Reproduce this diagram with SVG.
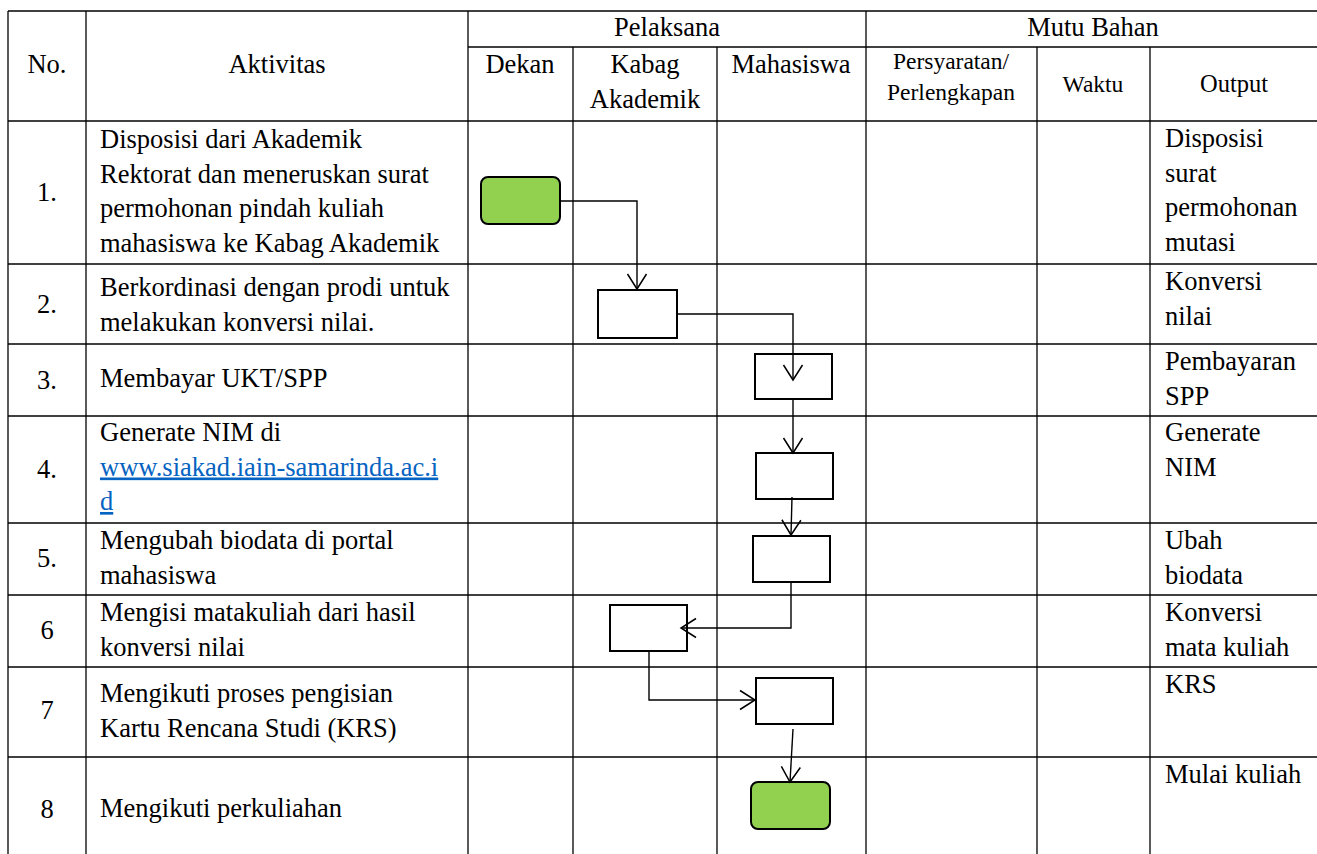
<svg xmlns="http://www.w3.org/2000/svg" width="1317" height="854" viewBox="0 0 1317 854" font-family="Liberation Serif, Tinos, Times New Roman, serif">
<style>
text{font-family:'Liberation Serif',Tinos,'Times New Roman',serif;font-size:26.5px;fill:#000}
.c{text-anchor:middle}
.s{font-size:23.5px}
.o{font-size:24.5px}
.grid line{stroke:#000;stroke-width:1.3}
.box{fill:#fff;stroke:#000;stroke-width:2}
.term{fill:#92d050;stroke:#000;stroke-width:2}
.con path{fill:none;stroke:#000;stroke-width:1.4}
.link{fill:#0563c1;text-decoration:underline}
</style>
<defs>
<marker id="arr" markerUnits="userSpaceOnUse" markerWidth="40" markerHeight="40" refX="0" refY="0" orient="auto" style="overflow:visible">
<path d="M-15,-9.5 L0,0 L-15,9.5" fill="none" stroke="#000" stroke-width="1.5"/>
</marker>
</defs>
<rect width="1317" height="854" fill="#fff"/>
<g id="table" class="grid">
<line x1="8" y1="11" x2="1317" y2="11"/>
<line x1="468" y1="47" x2="1317" y2="47"/>
<line x1="8" y1="121" x2="1317" y2="121"/>
<line x1="8" y1="264" x2="1317" y2="264"/>
<line x1="8" y1="344" x2="1317" y2="344"/>
<line x1="8" y1="416" x2="1317" y2="416"/>
<line x1="8" y1="523" x2="1317" y2="523"/>
<line x1="8" y1="595" x2="1317" y2="595"/>
<line x1="8" y1="667" x2="1317" y2="667"/>
<line x1="8" y1="757" x2="1317" y2="757"/>
<line x1="8" y1="11" x2="8" y2="854"/>
<line x1="86" y1="11" x2="86" y2="854"/>
<line x1="468" y1="11" x2="468" y2="854"/>
<line x1="866" y1="11" x2="866" y2="854"/>
<line x1="573" y1="47" x2="573" y2="854"/>
<line x1="717" y1="47" x2="717" y2="854"/>
<line x1="1037" y1="47" x2="1037" y2="854"/>
<line x1="1150" y1="47" x2="1150" y2="854"/>
</g>
<g id="header">
<text class="c" x="47" y="73">No.</text>
<text class="c" x="277" y="73">Aktivitas</text>
<text class="c" x="667" y="36">Pelaksana</text>
<text class="c" x="1093" y="36">Mutu Bahan</text>
<text class="c" x="520" y="73">Dekan</text>
<text class="c" x="645" y="73">Kabag</text>
<text class="c" x="645" y="108">Akademik</text>
<text class="c" x="791" y="73">Mahasiswa</text>
<text class="c s" x="951" y="69">Persyaratan/</text>
<text class="c s" x="951" y="100">Perlengkapan</text>
<text class="c s" x="1093" y="92">Waktu</text>
<text class="c o" x="1234" y="92">Output</text>
</g>
<g id="numbers">
<text class="c" x="47" y="201">1.</text>
<text class="c" x="47" y="313">2.</text>
<text class="c" x="47" y="389">3.</text>
<text class="c" x="47" y="478">4.</text>
<text class="c" x="47" y="567">5.</text>
<text class="c" x="47" y="639">6</text>
<text class="c" x="47" y="719">7</text>
<text class="c" x="47" y="818">8</text>
</g>
<g id="aktivitas">
<text x="100" y="148">Disposisi dari Akademik</text>
<text x="100" y="182.5">Rektorat dan meneruskan surat</text>
<text x="100" y="217">permohonan pindah kuliah</text>
<text x="100" y="251.5">mahasiswa ke Kabag Akademik</text>
<text x="100" y="296">Berkordinasi dengan prodi untuk</text>
<text x="100" y="330.5">melakukan konversi nilai.</text>
<text x="100" y="387">Membayar UKT/SPP</text>
<text x="100" y="441">Generate NIM di</text>
<text x="100" y="475.5" class="link">www.siakad.iain-samarinda.ac.i</text>
<text x="100" y="510" class="link">d</text>
<text x="100" y="549">Mengubah biodata di portal</text>
<text x="100" y="583.5">mahasiswa</text>
<text x="100" y="621">Mengisi matakuliah dari hasil</text>
<text x="100" y="655.5">konversi nilai</text>
<text x="100" y="702">Mengikuti proses pengisian</text>
<text x="100" y="736.5">Kartu Rencana Studi (KRS)</text>
<text x="100" y="817">Mengikuti perkuliahan</text>
</g>
<g id="output">
<text x="1165" y="147">Disposisi</text>
<text x="1165" y="181.5">surat</text>
<text x="1165" y="216">permohonan</text>
<text x="1165" y="250.5">mutasi</text>
<text x="1165" y="290">Konversi</text>
<text x="1165" y="324.5">nilai</text>
<text x="1165" y="370">Pembayaran</text>
<text x="1165" y="404.5">SPP</text>
<text x="1165" y="441">Generate</text>
<text x="1165" y="475.5">NIM</text>
<text x="1165" y="549">Ubah</text>
<text x="1165" y="583.5">biodata</text>
<text x="1165" y="621">Konversi</text>
<text x="1165" y="655.5">mata kuliah</text>
<text x="1165" y="693">KRS</text>
<text x="1165" y="783">Mulai kuliah</text>
</g>
<g id="n1"><rect class="term" x="481" y="177" width="79" height="47" rx="7"/></g>
<g id="n2"><rect class="box" x="598" y="290" width="79" height="48"/></g>
<g id="n3"><rect class="box" x="755" y="354" width="77" height="45"/></g>
<g id="n4"><rect class="box" x="756" y="453" width="77" height="46"/></g>
<g id="n5"><rect class="box" x="753" y="536" width="77" height="46"/></g>
<g id="n6"><rect class="box" x="610" y="605" width="77" height="46"/></g>
<g id="n7"><rect class="box" x="756" y="678" width="77" height="46"/></g>
<g id="n8"><rect class="term" x="751" y="782" width="79" height="47" rx="7"/></g>
<g id="connectors" class="con">
<path d="M560,201 H637 V289" marker-end="url(#arr)"/>
<path d="M677,314 H793 V380" marker-end="url(#arr)"/>
<path d="M793,399 V453" marker-end="url(#arr)"/>
<path d="M792,497 L791,535" marker-end="url(#arr)"/>
<path d="M791,582 V628 H681" marker-end="url(#arr)"/>
<path d="M649,651 V700 H755" marker-end="url(#arr)"/>
<path d="M793,729 L790,782" marker-end="url(#arr)"/>
</g>
</svg>
